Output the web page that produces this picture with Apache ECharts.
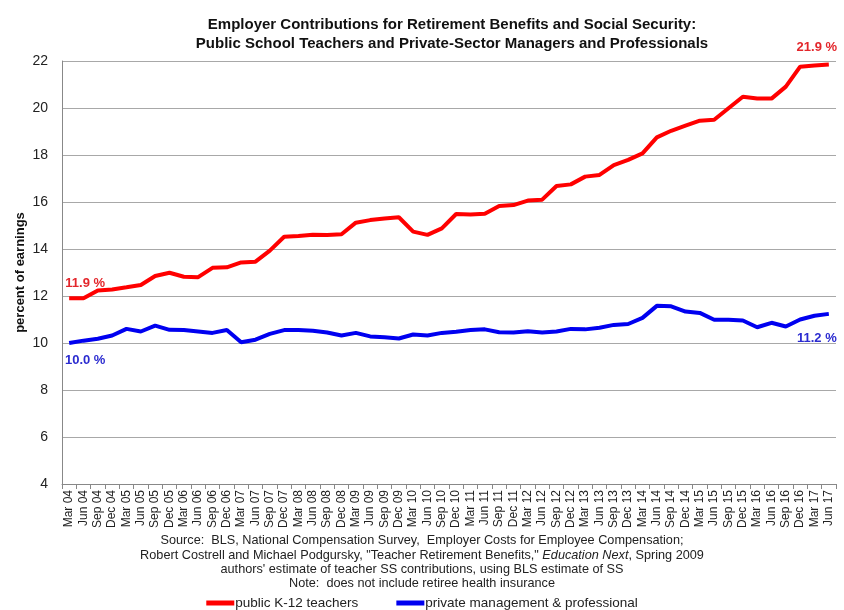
<!DOCTYPE html>
<html>
<head>
<meta charset="utf-8">
<script src="https://cdn.jsdelivr.net/npm/echarts@6/dist/echarts.min.js"></script>
<style>
  html, body { margin: 0; padding: 0; background: #fff; }
  #chart { width: 844px; height: 610px; }
</style>
</head>
<body>
<div id="chart"></div>
<script>
const quarters = ['Mar', 'Jun', 'Sep', 'Dec']
const categories = []
for (let y = 4; y <= 17; y++) {
  for (const q of quarters) {
    if (y === 17 && (q === 'Sep' || q === 'Dec')) continue
    categories.push(q + ' ' + String(y).padStart(2, '0'))
  }
}

const teachers = [
  11.9, 11.9, 12.23, 12.28, 12.37, 12.47, 12.85, 12.99, 12.82, 12.8,
  13.2, 13.22, 13.43, 13.46, 13.93, 14.52, 14.55, 14.61, 14.6, 14.63,
  15.12, 15.23, 15.3, 15.35, 14.74, 14.6, 14.88, 15.49, 15.47, 15.5,
  15.83, 15.87, 16.06, 16.1, 16.68, 16.75, 17.08, 17.15, 17.57, 17.79,
  18.07, 18.75, 19.03, 19.25, 19.46, 19.5, 19.99, 20.48, 20.4, 20.4,
  20.91, 21.76, 21.81, 21.85
]

const privateMgmt = [
  10.0, 10.1, 10.18, 10.32, 10.6, 10.49, 10.74, 10.56, 10.55, 10.49,
  10.43, 10.55, 10.03, 10.14, 10.39, 10.55, 10.55, 10.52, 10.45, 10.32,
  10.43, 10.28, 10.24, 10.19, 10.36, 10.32, 10.43, 10.48, 10.55, 10.58,
  10.46, 10.45, 10.5, 10.45, 10.49, 10.6, 10.58, 10.65, 10.77, 10.81,
  11.07, 11.58, 11.56, 11.34, 11.28, 10.99, 10.99, 10.96, 10.67, 10.86,
  10.7, 11.0, 11.16, 11.24
]

const endLabels = {
  teachers: ['11.9 %', '21.9 %'],
  privateMgmt: ['10.0 %', '11.2 %']
}

const footerLines = [
  'Source:  BLS, National Compensation Survey,  Employer Costs for Employee Compensation;',
  null,
  "authors' estimate of teacher SS contributions, using BLS estimate of SS",
  'Note:  does not include retiree health insurance'
]

const RED = '#ff0000'
const BLUE = '#0000f0'
const FONT = '"Liberation Sans", Arial, sans-serif'

// labels at the first and last point of a series, placed via markPoint coords
const endMarks = (values, labels, color, firstPos, lastPos) => {
  const last = values.length - 1
  const mk = (i, text, pos) => ({
    coord: [categories[i], values[i]],
    value: text,
    label: { position: pos.position, offset: pos.offset }
  })
  return {
    symbol: 'circle',
    symbolSize: 0,
    silent: true,
    label: {
      show: true,
      formatter: '{c}',
      color,
      fontWeight: 'bold',
      fontSize: 13,
      fontFamily: FONT
    },
    data: [mk(0, labels[0], firstPos), mk(last, labels[1], lastPos)]
  }
}

const chart = echarts.init(document.getElementById('chart'))

chart.setOption({
  animation: false,
  backgroundColor: '#fff',
  title: {
    text: 'Employer Contributions for Retirement Benefits and Social Security:\nPublic School Teachers and Private-Sector Managers and Professionals',
    left: 447,
    textAlign: 'center',
    top: 10,
    textStyle: { fontSize: 15, fontWeight: 'bold', color: '#111', fontFamily: FONT, lineHeight: 19 }
  },
  grid: { left: 62, right: 8, top: 61, bottom: 126 },
  legend: {
    top: 591,
    left: 'center',
    icon: 'rect',
    itemWidth: 28,
    itemHeight: 5,
    itemGap: 38,
    textStyle: { fontSize: 13.5, color: '#222', fontFamily: FONT, padding: [0, 0, 0, -4] },
    data: ['public K-12 teachers', 'private management & professional']
  },
  xAxis: {
    type: 'category',
    data: categories,
    boundaryGap: true,
    axisLine: { lineStyle: { color: '#888' } },
    axisTick: { show: true, interval: 0, length: 5, lineStyle: { color: '#888' } },
    axisLabel: { interval: 0, rotate: 90, fontSize: 12, color: '#222', fontFamily: FONT, margin: 6 }
  },
  yAxis: {
    type: 'value',
    min: 4,
    max: 22,
    interval: 2,
    name: 'percent of earnings',
    nameLocation: 'middle',
    nameGap: 35,
    nameMoveOverlap: false,
    nameTextStyle: { fontSize: 13, fontWeight: 'bold', color: '#111', fontFamily: FONT },
    axisLine: { show: true, lineStyle: { color: '#888' } },
    axisTick: { show: false },
    axisLabel: { fontSize: 14, color: '#222', fontFamily: FONT, margin: 14 },
    splitLine: { lineStyle: { color: '#a8a8a8', width: 1 } }
  },
  series: [
    {
      name: 'public K-12 teachers',
      type: 'line',
      data: teachers,
      showSymbol: false,
      lineStyle: { color: RED, width: 4 },
      itemStyle: { color: RED },
      markPoint: endMarks(teachers, endLabels.teachers, '#e3262b',
        { position: 'top', offset: [16, -3] },
        { position: 'top', offset: [-12, -6] })
    },
    {
      name: 'private management & professional',
      type: 'line',
      data: privateMgmt,
      showSymbol: false,
      lineStyle: { color: BLUE, width: 4 },
      itemStyle: { color: BLUE },
      markPoint: endMarks(privateMgmt, endLabels.privateMgmt, '#2b2bd0',
        { position: 'bottom', offset: [16, 6] },
        { position: 'bottom', offset: [-12, 13] })
    }
  ],
  graphic: [
    {
      type: 'text',
      left: 'center',
      top: 534,
      style: { text: footerLines[0], font: '12.7px ' + FONT, fill: '#222' }
    },
    {
      type: 'text',
      left: 'center',
      top: 549,
      style: {
        text: '{n|Robert Costrell and Michael Podgursky, "Teacher Retirement Benefits," }{i|Education Next}{n|, Spring 2009}',
        rich: {
          n: { font: '12.7px ' + FONT, fill: '#222' },
          i: { font: 'italic 12.7px ' + FONT, fill: '#222' }
        }
      }
    },
    {
      type: 'text',
      left: 'center',
      top: 563,
      style: { text: footerLines[2], font: '12.7px ' + FONT, fill: '#222' }
    },
    {
      type: 'text',
      left: 'center',
      top: 577,
      style: { text: footerLines[3], font: '12.7px ' + FONT, fill: '#222' }
    }
  ]
})
</script>
</body>
</html>
